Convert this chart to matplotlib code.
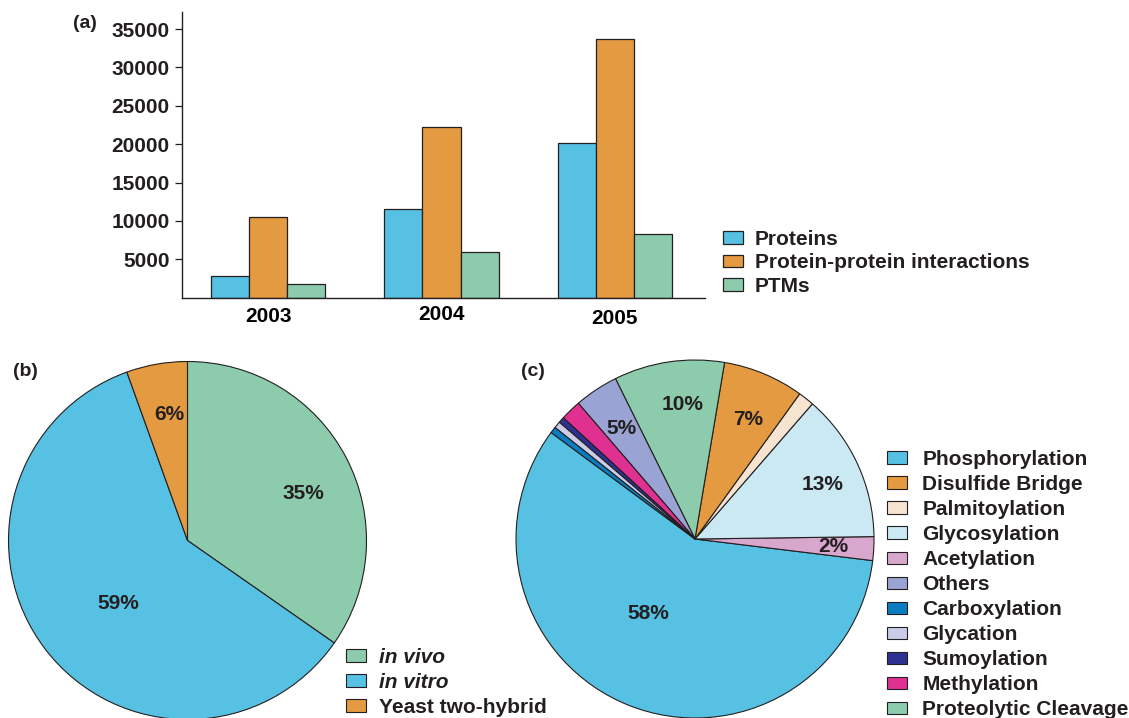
import numpy as np
import matplotlib
matplotlib.use("Agg")
import matplotlib.pyplot as plt
from matplotlib.transforms import ScaledTranslation

# ---------------- data ----------------
years = ["2003", "2004", "2005"]
bar_series = ["Proteins", "Protein-protein interactions", "PTMs"]
proteins = [2800, 11500, 20100]
ppi = [10500, 22300, 33700]
ptms = [1800, 6000, 8300]
yticks = [5000, 10000, 15000, 20000, 25000, 30000, 35000]

b_labels = ["in vivo", "in vitro", "Yeast two-hybrid"]
b_values = [34.7, 59.8, 5.5]
b_pct_text = ["35%", "59%", "6%"]

c_labels = ["Phosphorylation", "Disulfide Bridge", "Palmitoylation", "Glycosylation",
            "Acetylation", "Others", "Carboxylation", "Glycation", "Sumoylation",
            "Methylation", "Proteolytic Cleavage"]
c_values = [58.2, 7.3, 1.44, 13.4, 2.14, 3.97, 0.56, 0.61, 0.53, 1.86, 9.97]
c_pct_text = ["58%", "7%", "", "13%", "2%", "5%", "", "", "", "", "10%"]
# order in which the slices go round the pie (counter-clockwise)
c_draw_order = ["Phosphorylation", "Acetylation", "Glycosylation", "Palmitoylation",
                "Disulfide Bridge", "Proteolytic Cleavage", "Others", "Methylation",
                "Sumoylation", "Glycation", "Carboxylation"]

# ---------------- style ----------------
W, H = 1129, 718
DARK = "#231f20"
BLUE = "#56c1e3"
ORANGE = "#e49a41"
GREEN = "#8dcbad"
c_colors = {"Phosphorylation": BLUE, "Disulfide Bridge": ORANGE, "Palmitoylation": "#f6e4d0",
            "Glycosylation": "#cbe9f3", "Acetylation": "#d8a7cd", "Others": "#99a3d4",
            "Carboxylation": "#0a7dc2", "Glycation": "#c9cde8", "Sumoylation": "#2e3192",
            "Methylation": "#e03193", "Proteolytic Cleavage": GREEN}
FS = 15

plt.rcParams['font.family'] = ['Liberation Sans', 'DejaVu Sans']
plt.rcParams['font.weight'] = 'bold'
plt.rcParams['text.color'] = DARK

fig = plt.figure(figsize=(W / 100, H / 100), dpi=100)


def px_axes(left, top, right, bottom):
    return fig.add_axes([left / W, 1 - bottom / H, (right - left) / W, (bottom - top) / H])


# ---------------- (a) bar chart ----------------
ax = px_axes(182, 12.3, 705, 297.5)
x = np.arange(len(years))
bw = 0.22
for off, vals, col, lab in zip([-bw, 0, bw], [proteins, ppi, ptms], [BLUE, ORANGE, GREEN], bar_series):
    ax.bar(x + off, vals, width=bw, color=col, edgecolor=DARK, linewidth=0.9, label=lab)
ax.set_xlim(-0.496, 2.519)
ax.set_ylim(0, 37200)
ax.set_yticks(yticks)
ax.set_yticklabels([str(v) for v in yticks], fontsize=FS, fontweight='bold')
ax.set_xticks(x)
ax.set_xticklabels(years, fontsize=FS, fontweight='bold')
ax.tick_params(axis='x', length=0, pad=7)
ax.tick_params(axis='y', length=5, width=0.9, pad=4, color=DARK, labelcolor=DARK)
for s in ["top", "right"]:
    ax.spines[s].set_visible(False)
for s in ["left", "bottom"]:
    ax.spines[s].set_linewidth(1.0)
    ax.spines[s].set_color(DARK)
for lbl, dy in zip(ax.get_xticklabels(), [0, 2, -2]):
    lbl.set_transform(lbl.get_transform() + ScaledTranslation(0, dy / 100, fig.dpi_scale_trans))
fig.text(85 / W, 1 - 23 / H, "(a)", fontsize=14, fontweight='bold', ha='center', va='center')

leg_kw = dict(frameon=False, borderpad=0, borderaxespad=0, handlelength=0.97, handleheight=0.55,
              prop={'weight': 'bold', 'size': FS})
h, l = ax.get_legend_handles_labels()
fig.legend(h, l, loc='upper left', bbox_to_anchor=(723 / W, 1 - 230 / H),
           labelspacing=0.215, handletextpad=0.55, **leg_kw)

# ---------------- (b) pie ----------------
R = 179
axb = px_axes(187.5 - R, 540.5 - R, 187.5 + R, 540.5 + R)
wb, _ = axb.pie(b_values, colors=[GREEN, BLUE, ORANGE], startangle=90, counterclock=False,
                wedgeprops=dict(edgecolor=DARK, linewidth=0.8))
axb.set_xlim(-1, 1)
axb.set_ylim(-1, 1)
b_text_pos = [(0.648, 0.265), (-0.389, -0.354), (-0.103, 0.702)]
for t, (tx, ty) in zip(b_pct_text, b_text_pos):
    axb.text(tx, ty, t, fontsize=FS, fontweight='bold', ha='center', va='center')
fig.text(25 / W, 1 - 371.7 / H, "(b)", fontsize=14, fontweight='bold', ha='center', va='center')
legb = fig.legend(wb, b_labels, loc='upper left', bbox_to_anchor=(346 / W, 1 - 648 / H),
                  labelspacing=0.285, handletextpad=0.6, **leg_kw)
for t in legb.get_texts()[:2]:
    t.set_style('italic')

# ---------------- (c) pie ----------------
axc = px_axes(695 - R, 539 - R, 695 + R, 539 + R)
vals_c = [c_values[c_labels.index(n)] for n in c_draw_order]
wc, _ = axc.pie(vals_c, colors=[c_colors[n] for n in c_draw_order], startangle=143.5,
                counterclock=True, wedgeprops=dict(edgecolor=DARK, linewidth=0.8))
axc.set_xlim(-1, 1)
axc.set_ylim(-1, 1)
c_text_pos = {"58%": (-0.263, -0.415), "13%": (0.713, 0.302), "10%": (-0.069, 0.749),
              "7%": (0.298, 0.665), "5%": (-0.41, 0.618), "2%": (0.773, -0.043)}
for t in c_pct_text:
    if t:
        axc.text(*c_text_pos[t], t, fontsize=FS, fontweight='bold', ha='center', va='center')
fig.text(533 / W, 1 - 371.7 / H, "(c)", fontsize=14, fontweight='bold', ha='center', va='center')
wedge_by_name = dict(zip(c_draw_order, wc))
fig.legend([wedge_by_name[n] for n in c_labels], c_labels, loc='upper left',
           bbox_to_anchor=(887 / W, 1 - 450 / H), labelspacing=0.29, handletextpad=0.72, **leg_kw)

fig.savefig("out.png", dpi=100)
